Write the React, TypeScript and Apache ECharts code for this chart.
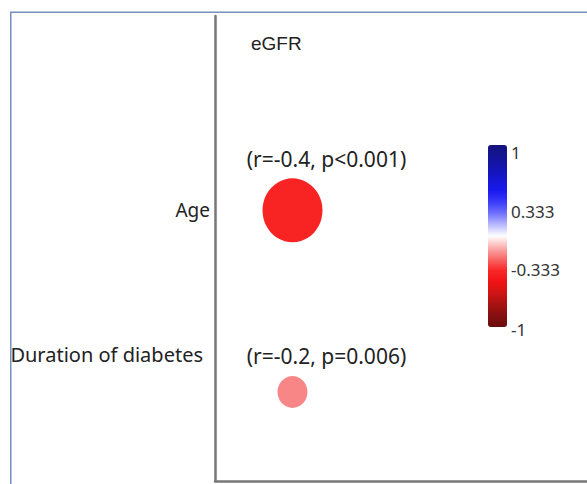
import React, { useEffect, useRef } from "react";
import * as echarts from "echarts";

const columns = ["eGFR"];
const rows = ["Age", "Duration of diabetes"];
const rValues = [-0.4, -0.2];
const pTexts = ["p<0.001", "p=0.006"];
const colorbarTicks = [-1, -0.333, 0.333, 1];

export default function App() {
  const ref = useRef<HTMLDivElement>(null);
  useEffect(() => {
    if (!ref.current) return;
    const chart = echarts.init(ref.current, undefined, { renderer: "svg" });
    const data = rows.map((_, i) => ({
      value: [0, i, rValues[i]],
      label: { formatter: `(r=${rValues[i]}, ${pTexts[i]})` },
    }));
    chart.setOption({
      animation: false,
      backgroundColor: "#ffffff",
      title: {
        text: columns[0],
        left: 246,
        top: 29,
        textStyle: { fontFamily: "Liberation Sans", fontSize: 19, fontWeight: "normal", color: "#222" },
      },
      graphic: [
        {
          type: "rect",
          shape: { x: 10.75, y: 12.25, width: 620, height: 520 },
          style: { fill: "none", stroke: "#7590bd", lineWidth: 1.5 },
          silent: true,
        },
      ],
      grid: [
        { left: 215, top: 16, right: 0, bottom: 3 },
        { left: 500, top: 152, width: 7, height: 177 },
      ],
      xAxis: [
        {
          type: "value",
          gridIndex: 0,
          min: -0.5,
          max: 1.9,
          axisLine: { show: true, onZero: false, lineStyle: { color: "#777", width: 2.5 } },
          axisTick: { show: false },
          axisLabel: { show: false },
          splitLine: { show: false },
        },
        {
          type: "value",
          gridIndex: 1,
          show: false,
        },
      ],
      yAxis: [
        {
          type: "value",
          gridIndex: 0,
          inverse: true,
          min: -1.07,
          max: 1.49,
          axisLine: { show: true, onZero: false, lineStyle: { color: "#777", width: 2.5 } },
          axisTick: { show: false },
          splitLine: { show: false },
          axisLabel: {
            customValues: [0, 1],
            margin: 5,
            formatter: (v: number) => (v === 0 ? `{a|${rows[0]}}` : `{b|${rows[v]}}`),
            rich: {
              a: { fontFamily: "Noto Sans", fontSize: 19, color: "#222" },
              b: { fontFamily: "Noto Sans", fontSize: 20, color: "#222", padding: [0, 7, 74, 0] },
            },
          },
        },
        {
          type: "value",
          gridIndex: 1,
          position: "right",
          min: -1,
          max: 1,
          axisLine: { show: false },
          axisTick: { show: false },
          splitLine: { show: false },
          axisLabel: {
            customValues: colorbarTicks,
            margin: 4,
            fontFamily: "Noto Sans",
            fontSize: 17,
            color: "#333",
            formatter: (v: number) => String(v),
          },
        },
      ],
      visualMap: {
        type: "continuous",
        min: -1,
        max: 1,
        dimension: 2,
        seriesIndex: 0,
        calculable: false,
        left: 488,
        top: 145,
        padding: 0,
        itemWidth: 19,
        itemHeight: 182,
        text: null,
        inRange: {
          color: [
            "#6a0c0c",
            "#841010",
            "#a81212",
            "#d01414",
            "#f01212",
            "#fa2828",
            "#f86a6a",
            "#fbb0b0",
            "#ffffff",
            "#b8b8ff",
            "#7070ff",
            "#3a3af8",
            "#1a1af0",
            "#1616d0",
            "#1414b0",
            "#141496",
            "#14147a",
          ],
        },
      },
      series: [
        {
          type: "scatter",
          xAxisIndex: 0,
          yAxisIndex: 0,
          data,
          itemStyle: { opacity: 1 },
          symbolSize: (val: number[]) => [Math.abs(val[2]) * 150, Math.abs(val[2]) * 160],
          label: {
            show: true,
            position: "top",
            distance: 9,
            offset: [34, 0],
            fontFamily: "Noto Sans",
            fontSize: 21,
            color: "#222",
          },
        },
      ],
    });
    return () => chart.dispose();
  }, []);
  return <div ref={ref} style={{ position: "fixed", left: 0, top: 0, width: 587, height: 484 }} />;
}
